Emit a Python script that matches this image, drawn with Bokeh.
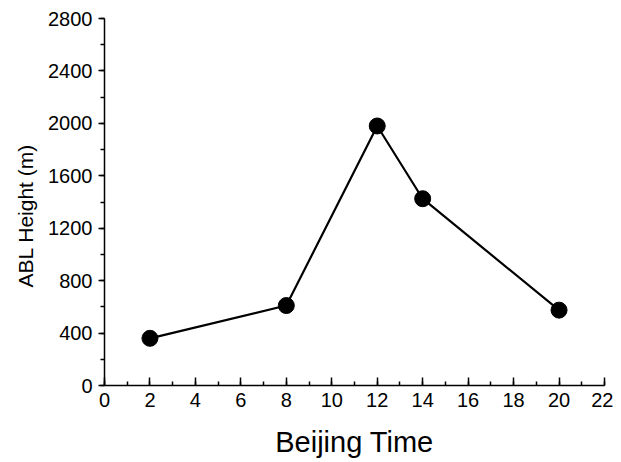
from bokeh.plotting import figure
from bokeh.models import Range1d, FixedTicker, Title
from bokeh.embed import file_html
from bokeh.resources import INLINE

# data
beijing_time = [2, 8, 12, 14, 20]
abl_height = [360, 610, 1980, 1425, 575]
x_ticks = list(range(0, 23, 2))
x_minor = list(range(0, 23, 1))
y_ticks = list(range(0, 2801, 400))
y_minor = list(range(0, 2801, 200))

FONT = "Liberation Sans"

p = figure(width=613, height=460, output_backend="svg", toolbar_location=None,
           x_range=Range1d(0, 22), y_range=Range1d(0, 2800),
           min_border_left=104, min_border_right=9, min_border_top=18, min_border_bottom=75)
p.outline_line_color = None
p.xgrid.visible = False
p.ygrid.visible = False

p.line(beijing_time, abl_height, line_color="black", line_width=2.2)
p.scatter(beijing_time, abl_height, size=16, fill_color="black", line_color="black")

xa = p.xaxis[0]
xa.ticker = FixedTicker(ticks=x_ticks, minor_ticks=x_minor)
xa.axis_label = "Beijing Time"
xa.axis_label_text_font = FONT
xa.axis_label_text_font_size = "29px"
xa.axis_label_text_font_style = "normal"
xa.axis_label_text_color = "black"
xa.axis_label_standoff = 16
xa.major_label_text_font = FONT
xa.major_label_text_font_size = "20px"
xa.major_label_text_color = "black"
xa.major_label_standoff = 7
xa.major_tick_in = 8
xa.major_tick_out = 0
xa.minor_tick_in = 4
xa.minor_tick_out = 0
xa.axis_line_width = 1.5
xa.major_tick_line_width = 1.5
xa.minor_tick_line_width = 1.5

ya = p.yaxis[0]
ya.ticker = FixedTicker(ticks=y_ticks, minor_ticks=y_minor)
ya.major_label_text_font = FONT
ya.major_label_text_font_size = "20px"
ya.major_label_text_color = "black"
ya.major_label_standoff = 6
ya.major_tick_in = 0
ya.major_tick_out = 6
ya.minor_tick_in = 0
ya.minor_tick_out = 4
ya.axis_line_width = 1.5
ya.major_tick_line_width = 1.5
ya.minor_tick_line_width = 1.5

ylabel = Title(text="ABL Height (m)", align="left", offset=98, standoff=17,
               text_font=FONT, text_font_size="21px", text_font_style="normal",
               text_color="black")
p.add_layout(ylabel, "left")

open("out.html", "w").write(file_html(p, INLINE))
